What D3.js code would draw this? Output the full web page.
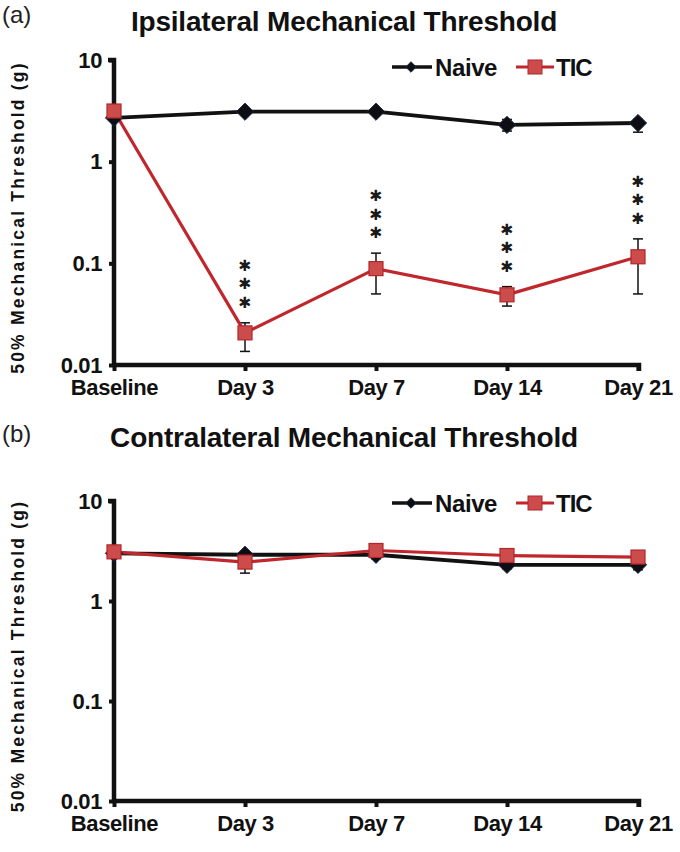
<!DOCTYPE html>
<html><head><meta charset="utf-8">
<script src="https://cdn.jsdelivr.net/npm/d3@7"></script>
<style>
html,body{margin:0;padding:0;background:#fff;}
svg{display:block;font-family:"Liberation Sans",Arial,sans-serif;}
</style></head>
<body>
<svg id="chart" width="680" height="852"></svg>
<script>
// ---- data ----
const categories = ["Baseline","Day 3","Day 7","Day 14","Day 21"];
const yTicks = [0.01, 0.1, 1, 10];
const yTickLabels = ["0.01","0.1","1","10"];
const seriesNames = ["Naive","TIC"];

// Panel (a) ipsilateral
const ipsiNaive     = [2.7, 3.1, 3.1, 2.3, 2.4];
const ipsiNaiveLow  = [2.6, 2.95, 2.95, 2.0, 1.95];
const ipsiNaiveHigh = [2.8, 3.25, 3.25, 2.6, 2.6];
const ipsiTIC       = [3.15, 0.0207, 0.0887, 0.049, 0.116];
const ipsiTICLow    = [3.0, 0.0136, 0.050, 0.038, 0.050];
const ipsiTICHigh   = [3.3, 0.026, 0.126, 0.059, 0.174];
const ipsiStars     = ["", "***", "***", "***", "***"];

// Panel (b) contralateral
const contraNaive     = [3.0, 2.9, 2.9, 2.3, 2.3];
const contraNaiveLow  = [2.9, 2.75, 2.65, 2.1, 2.05];
const contraNaiveHigh = [3.1, 3.05, 3.1, 2.5, 2.5];
const contraTIC       = [3.1, 2.45, 3.2, 2.85, 2.75];
const contraTICLow    = [3.0, 1.9, 3.1, 2.75, 2.65];
const contraTICHigh   = [3.2, 2.7, 3.3, 2.95, 2.85];
const contraStars     = ["", "", "", "", ""];

const svg = d3.select("#chart");
const BLACK = "#111111", RED = "#c0272d", REDFILL = "#cc4b4b";

function drawPanel(opt){
  const g = svg.append("g");
  const x = d3.scalePoint().domain(categories).range([114, 638]);
  const y = d3.scaleLog().domain([0.01, 10]).range([opt.bottom, opt.top]);

  // letter + title
  g.append("text").attr("x", 2).attr("y", opt.letterY).attr("font-size", 24)
    .attr("fill", "#222").text(opt.letter);
  g.append("text").attr("x", 344).attr("y", opt.titleY).attr("text-anchor","middle")
    .attr("font-size", 28).attr("font-weight","bold").attr("fill","#111")
    .attr("letter-spacing", -0.2).text(opt.title);

  // y label
  g.append("text")
    .attr("transform", `translate(24,${(opt.top+opt.bottom)/2 + 5}) rotate(-90)`)
    .attr("text-anchor","middle").attr("font-size", 17.5).attr("font-weight","bold")
    .attr("letter-spacing", 2.2).attr("fill","#111")
    .text("50% Mechanical Threshold (g)");

  // axes
  const yAxis = d3.axisLeft(y).tickValues(yTicks)
    .tickFormat(d=>yTickLabels[yTicks.indexOf(d)]).tickSize(5).tickPadding(7);
  const ya = g.append("g").attr("transform","translate(114,0)").call(yAxis);
  const xAxis = d3.axisBottom(x).tickSize(6).tickPadding(8);
  const xa = g.append("g").attr("transform",`translate(0,${opt.bottom})`).call(xAxis);
  [ya, xa].forEach(a=>{
    a.select(".domain").attr("stroke", BLACK).attr("stroke-width", 4.5);
    a.selectAll(".tick line").attr("stroke", BLACK).attr("stroke-width", 4);
    a.selectAll(".tick text").attr("font-size", 22).attr("font-weight","bold")
      .attr("fill","#111").attr("font-family",'"Liberation Sans",Arial,sans-serif')
      .attr("letter-spacing",-0.4);
  });
  ya.select(".domain").attr("d", `M-6,${opt.top}H0V${opt.bottom}`);
  xa.select(".domain").attr("d", `M114,0H639V6`);

  const series = [
    {name:"Naive", v:opt.naive, lo:opt.naiveLow, hi:opt.naiveHigh, color:BLACK, w:3.8},
    {name:"TIC", v:opt.tic, lo:opt.ticLow, hi:opt.ticHigh, color:RED, w:3.2}
  ];
  const line = d3.line().x((d,i)=>x(categories[i])).y(d=>y(d));

  // error bars
  series.forEach(s=>{
    const eb = g.append("g");
    s.v.forEach((v,i)=>{
      const cx = x(categories[i]);
      eb.append("line").attr("x1",cx).attr("x2",cx).attr("y1",y(s.lo[i])).attr("y2",y(s.hi[i]))
        .attr("stroke","#111").attr("stroke-width",1.5);
      [s.lo[i], s.hi[i]].forEach(e=>{
        eb.append("line").attr("x1",cx-5).attr("x2",cx+5).attr("y1",y(e)).attr("y2",y(e))
          .attr("stroke","#111").attr("stroke-width",1.5);
      });
    });
  });

  series.forEach(s=>{
    g.append("path").datum(s.v).attr("d", line).attr("fill","none")
      .attr("stroke", s.color).attr("stroke-width", s.w);
  });
  // markers
  const naiveG = g.append("g");
  opt.naive.forEach((v,i)=>{
    naiveG.append("path").attr("d", d3.symbol(d3.symbolDiamond2, 190)())
      .attr("transform",`translate(${x(categories[i])},${y(v)})`)
      .attr("fill","#0d0d14").attr("stroke","#1a2a40").attr("stroke-width",1);
  });
  const ticG = g.append("g");
  opt.tic.forEach((v,i)=>{
    ticG.append("rect").attr("x", x(categories[i])-7).attr("y", y(v)-7)
      .attr("width",14).attr("height",14)
      .attr("fill", REDFILL).attr("stroke","#b3262b").attr("stroke-width",1.2);
  });

  // significance stars
  opt.stars.forEach((st,i)=>{
    if(!st) return;
    const cx = x(categories[i]);
    const base = y(opt.ticHigh[i]) - 20;
    st.split("").forEach((c,k)=>{
      g.append("text").attr("x",cx).attr("y", base - k*18.5).attr("text-anchor","middle")
        .attr("dominant-baseline","central")
        .attr("font-size", 15.5).attr("fill","#1a1a1a")
        .attr("font-family","DejaVu Sans, sans-serif")
        .text("\u2731");
    });
  });

  // legend
  const ly = opt.legendY;
  const lg = g.append("g");
  lg.append("line").attr("x1",392).attr("x2",432).attr("y1",ly).attr("y2",ly)
    .attr("stroke",BLACK).attr("stroke-width",3.6);
  lg.append("path").attr("d", d3.symbol(d3.symbolDiamond2, 70)())
    .attr("transform",`translate(411,${ly})`).attr("fill","#0d0d14").attr("stroke","#1a2a40");
  lg.append("text").attr("x",435).attr("y",ly+8.5).attr("font-size",24).attr("font-weight","bold")
    .attr("fill","#111").attr("letter-spacing",-0.4).text(seriesNames[0]);
  lg.append("line").attr("x1",516).attr("x2",554).attr("y1",ly).attr("y2",ly)
    .attr("stroke",RED).attr("stroke-width",3.2);
  lg.append("rect").attr("x",528).attr("y",ly-7).attr("width",14).attr("height",14)
    .attr("fill",REDFILL).attr("stroke","#b3262b");
  lg.append("text").attr("x",556).attr("y",ly+8.5).attr("font-size",24).attr("font-weight","bold")
    .attr("fill","#111").attr("letter-spacing",-1).text(seriesNames[1]);
}

drawPanel({letter:"(a)", title:"Ipsilateral Mechanical Threshold", top:60, bottom:365,
  letterY:23, titleY:31, legendY:67,
  naive:ipsiNaive, naiveLow:ipsiNaiveLow, naiveHigh:ipsiNaiveHigh,
  tic:ipsiTIC, ticLow:ipsiTICLow, ticHigh:ipsiTICHigh, stars:ipsiStars});
drawPanel({letter:"(b)", title:"Contralateral Mechanical Threshold", top:501, bottom:801,
  letterY:442, titleY:447, legendY:503,
  naive:contraNaive, naiveLow:contraNaiveLow, naiveHigh:contraNaiveHigh,
  tic:contraTIC, ticLow:contraTICLow, ticHigh:contraTICHigh, stars:contraStars});
</script>
</body></html>
